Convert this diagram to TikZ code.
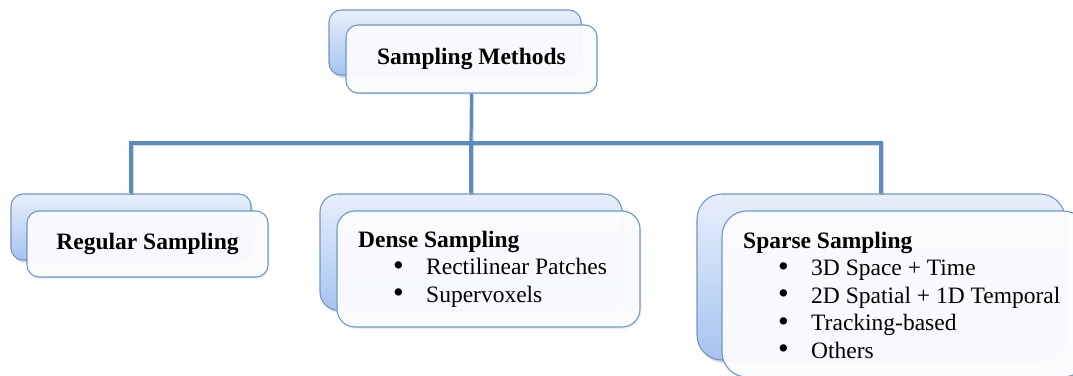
\documentclass[tikz,border=0pt]{standalone}
\usepackage{fontspec}
\setmainfont{Liberation Serif}
\usetikzlibrary{shadows}

\definecolor{edge}{HTML}{6E97CB}
\definecolor{busblue}{HTML}{5B8BC6}
\definecolor{backtop}{HTML}{E8EFFB}
\definecolor{backbot}{HTML}{A6C4F0}
\definecolor{frontfill}{HTML}{FCFDFF}

% indented bullet item inside a box
\newcommand{\itm}[1]{\hspace*{35pt}\makebox[33pt][l]{\smash{\raisebox{-0.5pt}{\scalebox{1.3}{\textbullet}}}}#1}

\begin{document}
\begin{tikzpicture}[x=1pt,y=-1pt,
  backbox/.style={draw=edge, line width=1.1pt, top color=backtop, bottom color=backbot,
    inner sep=0pt, drop shadow={shadow xshift=2pt, shadow yshift=-3pt, opacity=0.3}},
  frontbox/.style={draw=edge, line width=1.1pt, fill=frontfill, fill opacity=0.95, text opacity=1,
    inner sep=0pt, drop shadow={shadow xshift=1.5pt, shadow yshift=-2pt, opacity=0.12},
    font=\fontsize{23.5}{27.5}\selectfont\bfseries},
  txt/.style={anchor=west, align=left, inner sep=0pt, font=\fontsize{23.5}{27.5}\selectfont},
  bus/.style={draw=busblue, line width=3.2pt,
    preaction={draw=black, opacity=0.15, line width=3.2pt, transform canvas={xshift=1pt, yshift=-1.5pt}}}
]
\useasboundingbox (0,0) rectangle (1073,375);

% back layers
\node[backbox, rounded corners=12pt, minimum width=252pt, minimum height=65pt] (topback) at (455,42.5) {};
\node[backbox, rounded corners=12pt, minimum width=240pt, minimum height=66pt] (regback) at (131,227) {};
\node[backbox, rounded corners=18pt, minimum width=302pt, minimum height=116pt] (denseback) at (471,252) {};
\node[backbox, rounded corners=25pt, minimum width=368pt, minimum height=166pt] (sparseback) at (881,277) {};

% front layers
\node[frontbox, rounded corners=12pt, minimum width=251pt, minimum height=68pt] (top) at (471.5,59) {Sampling Methods};
\node[frontbox, rounded corners=12pt, minimum width=241pt, minimum height=66pt] (reg) at (147.5,244) {Regular Sampling};
\node[frontbox, rounded corners=18pt, minimum width=303pt, minimum height=116pt] (dense) at (488.5,269) {};
\node[frontbox, rounded corners=25pt, minimum width=366pt, minimum height=166pt] (sparse) at (905,294) {};

% box contents
\node[txt] (densetext) at (358,269) {\textbf{Dense Sampling}\\
  \itm{Rectilinear Patches}\\
  \itm{Supervoxels}};
\node[txt] (sparsetext) at (743,295) {\textbf{Sparse Sampling}\\
  \itm{3D Space + Time}\\
  \itm{2D Spatial + 1D Temporal}\\
  \itm{Tracking-based}\\
  \itm{Others}};

% connectors
\coordinate (hub) at (471,143);
\draw[bus] (top.south) -- (hub);
\draw[bus] (hub) -| (regback.north);
\draw[bus] (hub) -| (sparseback.north);
\draw[bus] (hub) -- (denseback.north);
\end{tikzpicture}
\end{document}
